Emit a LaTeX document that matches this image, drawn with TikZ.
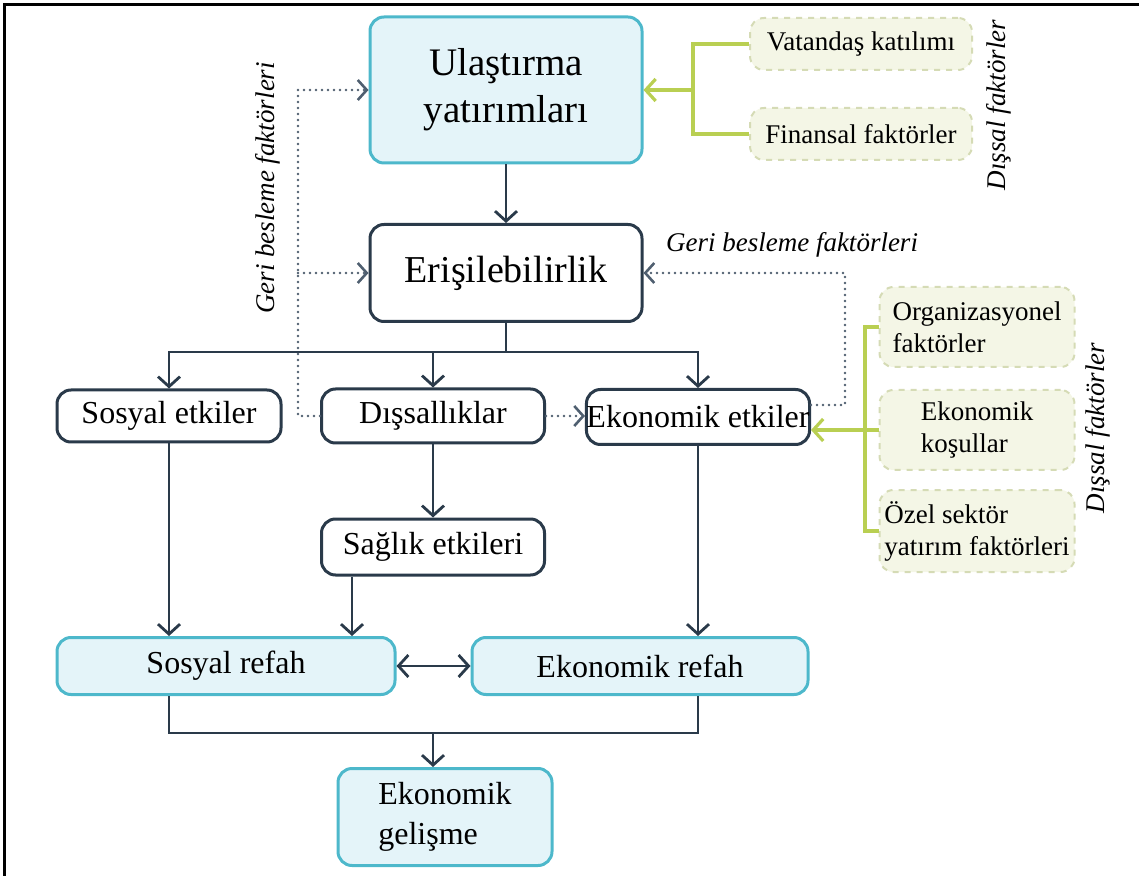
\documentclass[tikz,border=0pt]{standalone}
\usepackage{fontspec}
\setmainfont{Liberation Serif}
\usetikzlibrary{arrows.meta,calc}
\definecolor{tealb}{HTML}{4DB8CB}
\definecolor{lightb}{HTML}{E4F4F9}
\definecolor{darkb}{HTML}{2A3A4A}
\definecolor{limeg}{HTML}{B9CF52}
\definecolor{creamf}{HTML}{F4F6E6}
\definecolor{creamd}{HTML}{D5DBB5}
\definecolor{dotg}{HTML}{4F5F70}

\begin{document}
\begin{tikzpicture}[x=0.5pt,y=-0.5pt,
every node/.style={inner sep=0pt},
box/.style={draw=darkb,fill=white,line width=1.5pt,rounded corners=7pt,
font=\fontsize{16}{20}\selectfont},
bluebox/.style={box,draw=tealb,fill=lightb},
dishbox/.style={draw=creamd,fill=creamf,dashed,line width=1pt,rounded corners=7pt,
minimum width=97.5pt,align=left,font=\fontsize{13.5}{16}\selectfont},
italbl/.style={font=\fontsize{13.5}{16}\selectfont\itshape},
link/.style={draw=darkb,line width=1.4pt},
arr/.style={link,-{Straight Barb[length=5pt,width=11pt]}},
fb/.style={draw=dotg,line width=1.3pt,line cap=round,dash pattern=on 0pt off 3pt,
-{Straight Barb[length=4.5pt,width=10pt,line cap=butt]}},
gr/.style={draw=limeg,line width=1.6pt},
grarr/.style={gr,-{Straight Barb[length=5pt,width=11pt]}}]
\useasboundingbox (0,0) rectangle (1139,876);
\draw[line width=1.5pt] (4,876) -- (4,5) -- (1139,5);

\node[bluebox,minimum width=136pt,minimum height=73pt,align=center,
font=\fontsize{19.5}{23.5}\selectfont] (ulas) at (506,90) {Ulaştırma\\yatırımları};
\node[box,minimum width=136pt,minimum height=48.5pt,
font=\fontsize{19}{23}\selectfont] (eris) at (506,273) {Erişilebilirlik};
\node[box,minimum width=112pt,minimum height=26pt] (sosyal) at (169,416) {Sosyal etkiler};
\node[box,minimum width=111.5pt,minimum height=27pt] (dissal) at (433,416) {Dışsallıklar};
\node[box,minimum width=111pt,minimum height=27.5pt] (ekonetki) at (698,417) {Ekonomik etkiler};
\node[box,minimum width=111.5pt,minimum height=28pt] (saglik) at (433,547) {Sağlık etkileri};
\node[bluebox,minimum width=169pt,minimum height=28.5pt] (sosrefah) at (226,666) {Sosyal refah};
\node[bluebox,minimum width=168pt,minimum height=28.5pt] (ekorefah) at (640,666) {Ekonomik refah};
\node[bluebox,minimum width=107pt,minimum height=48.5pt,align=left] (gelisme) at (445,817) {Ekonomik\\gelişme};

\node[dishbox,minimum width=111pt,minimum height=26pt] (vatandas) at (861,44) {Vatandaş katılımı};
\node[dishbox,minimum width=111pt,minimum height=26pt] (finansal) at (861,134) {Finansal faktörler};
\node[dishbox,minimum height=40pt] (organ) at (977,327) {Organizasyonel\\faktörler};
\node[dishbox,minimum height=40pt] (kosul) at (977,430) {Ekonomik\\koşullar};
\node[dishbox,minimum height=41pt] (ozel) at (977,531) {Özel sektör\\yatırım faktörleri};

\node[italbl,rotate=90] (fbsol) at (268,188) {Geri besleme faktörleri};
\node[italbl] (fbsag) at (792,245) {Geri besleme faktörleri};
\node[italbl,rotate=90] (dis1) at (999,105) {Dışsal faktörler};
\node[italbl,rotate=90] (dis2) at (1098,428) {Dışsal faktörler};

\draw[arr] (ulas) -- (eris);
\coordinate (hub) at (506,352);
\draw[link] (eris) -- (hub);
\draw[arr] (hub) -| (sosyal);
\draw[arr] (hub) -| (dissal);
\draw[arr] (hub) -| (ekonetki);
\draw[arr] (dissal) -- (saglik);
\draw[arr] (sosyal) -- (sosyal |- sosrefah.north);
\coordinate (sagout) at ($(saglik.south)+(-81,0)$);
\draw[arr] (sagout) -- (sagout |- sosrefah.north);
\draw[arr] (ekonetki) -- (ekonetki |- ekorefah.north);
\draw[link,{Straight Barb[length=5pt,width=11pt]}-{Straight Barb[length=5pt,width=11pt]}] (sosrefah) -- (ekorefah);
\coordinate (hub2) at (433,733);
\draw[link] (sosyal |- sosrefah.south) |- (hub2) -| (ekonetki |- ekorefah.south);
\draw[arr] (hub2) -- (hub2 |- gelisme.north);

\coordinate (fbsolust) at (298,90);
\draw[fb] (dissal) -| (fbsolust) -- (ulas);
\draw[fb] (fbsolust |- eris.west) -- (eris);
\coordinate (fbsagust) at (845,273);
\coordinate (ekr) at ($(ekonetki.east)+(0,-12)$);
\draw[fb] (ekr) -| (fbsagust) -- (eris);
\draw[fb] (dissal) -- (dissal -| ekonetki.west);

\coordinate (gust) at (693,90);
\draw[gr] (vatandas) -| (gust) |- (finansal);
\draw[grarr] (gust) -- (ulas);
\coordinate (galt) at (865,430);
\draw[gr] (organ) -| (galt) |- (ozel);
\draw[grarr] (kosul) -- (ekonetki.east |- kosul.west);
\end{tikzpicture}
\end{document}
